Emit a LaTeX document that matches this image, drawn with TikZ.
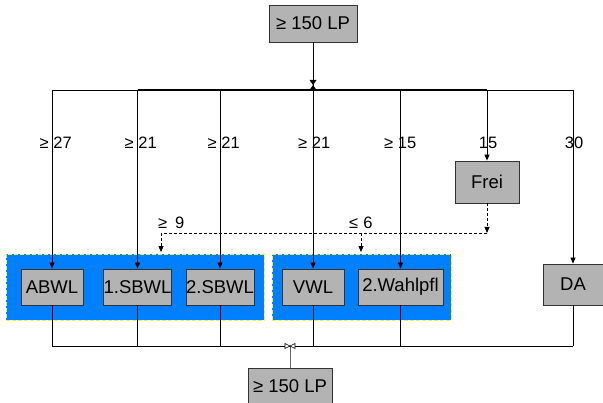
\documentclass[tikz,border=0pt]{standalone}
\usepackage{fontspec}
\setmainfont{Liberation Sans}
\usetikzlibrary{arrows.meta}
\definecolor{boxgray}{RGB}{179,179,179}
\definecolor{boxborder}{RGB}{50,50,50}
\definecolor{grpblue}{RGB}{0,128,255}
\definecolor{grpyellow}{RGB}{240,240,60}
\definecolor{linegray}{RGB}{100,100,100}
\begin{document}
\begin{tikzpicture}[x=1pt,y=-1pt,
  box/.style={draw=boxborder, fill=boxgray, line width=0.8pt, inner sep=0pt, font=\fontsize{18.5}{18.5}\selectfont},
  grp/.style={fill=grpblue, draw=grpyellow, dash pattern=on 4pt off 2pt, line width=0.9pt, inner sep=0pt},
  conn/.style={line width=0.8pt},
  arr/.style={conn, -{Triangle[length=6pt,width=5pt]}},
  dconn/.style={conn, dash pattern=on 3pt off 2pt},
  darr/.style={arr, dash pattern=on 3pt off 2pt},
  lbl/.style={font=\fontsize{16.5}{16.5}\selectfont, inner sep=0pt, anchor=west}]
\useasboundingbox (0,0) rectangle (603,403);
\fill[white] (0,0) rectangle (603,403);
% groups
\node[grp, minimum width=258pt, minimum height=66pt] (g1) at (135,287) {};
\node[grp, minimum width=179pt, minimum height=66pt] (g2) at (361.5,287) {};
% boxes
\node[box, minimum width=88pt, minimum height=37pt] (top) at (313,23.5) {≥ 150 LP};
\node[box, minimum width=62pt, minimum height=36pt] (abwl) at (52,287) {ABWL};
\node[box, minimum width=63pt, minimum height=36pt] (sbwla) at (137.5,287) {1.SBWL};
\node[box, minimum width=62pt, minimum height=36pt] (sbwlb) at (220,287) {2.SBWL};
\node[box, minimum width=62pt, minimum height=36pt] (vwl) at (313,287) {VWL};
\node[box, minimum width=85pt, minimum height=36pt] (wahl) at (400.5,287) {2.Wahlpfl};
\node[box, minimum width=60pt, minimum height=41pt] (da) at (573,284.5) {DA};
\node[box, minimum width=64pt, minimum height=42pt] (frei) at (487,182) {Frei};
\node[box, minimum width=84pt, minimum height=37pt] (bot) at (290,386.5) {≥ 150 LP};
% top distribution
\coordinate (topj) at (313,90);
\draw[conn] (top.south) -- (topj);
\draw[conn] (topj -| abwl) -- (topj -| da);
\draw[line width=1.3pt] (topj -| sbwla) -- (topj -| frei);
\foreach \n in {abwl,sbwla,sbwlb,vwl,wahl,frei,da}
  \draw[arr] (topj -| \n) -- (\n.north);
\fill (topj) ++(-3.5,-10) -- ++(7,0) -- ++(-3.5,5) -- cycle;
\fill (topj) ++(-3.5,0) -- ++(7,0) -- ++(-3.5,-5) -- cycle;
% labels
\node[lbl] (l1) at (39.5,143) {≥ 27};
\node[lbl] (l2) at (124.5,143) {≥ 21};
\node[lbl] (l3) at (207.5,143) {≥ 21};
\node[lbl] (l4) at (298,143) {≥ 21};
\node[lbl] (l5) at (384,143) {≥ 15};
\node[lbl, anchor=center] (l6) at (488,143) {15};
\node[lbl, anchor=center] (l7) at (574,143) {30};
\node[lbl] (l8) at (158,223) {≥\hspace{8pt}9};
\node[lbl] (l9) at (349,223) {≤\hspace{5pt}6};
% dashed Frei distribution
\coordinate (dj) at (487,233);
\coordinate (d1) at (161,233);
\coordinate (d2) at (361,233);
\draw[darr] (frei.south) -- (dj);
\draw[dconn] (dj) -- (d1);
\draw[darr, shorten >=1.5pt] (d1) -- (d1 |- g1.north);
\draw[darr, shorten >=1.5pt] (d2) -- (d2 |- g2.north);
% bottom collection
\coordinate (bj) at (290,346);
\foreach \n in {abwl,sbwla,sbwlb,vwl,wahl,da}
  \draw[conn] (\n.south) -- (\n.south |- bj);
\draw[conn] (bj -| abwl) -- (bj -| da);
\draw[conn, linegray] (bj) -- (bot.north);
\filldraw[fill=white, draw=black, line width=0.6pt] (bj) -- ++(-5,-2.5) -- ++(0,5) -- cycle;
\filldraw[fill=white, draw=black, line width=0.6pt] (bj) -- ++(5,-2.5) -- ++(0,5) -- cycle;
\end{tikzpicture}
\end{document}
